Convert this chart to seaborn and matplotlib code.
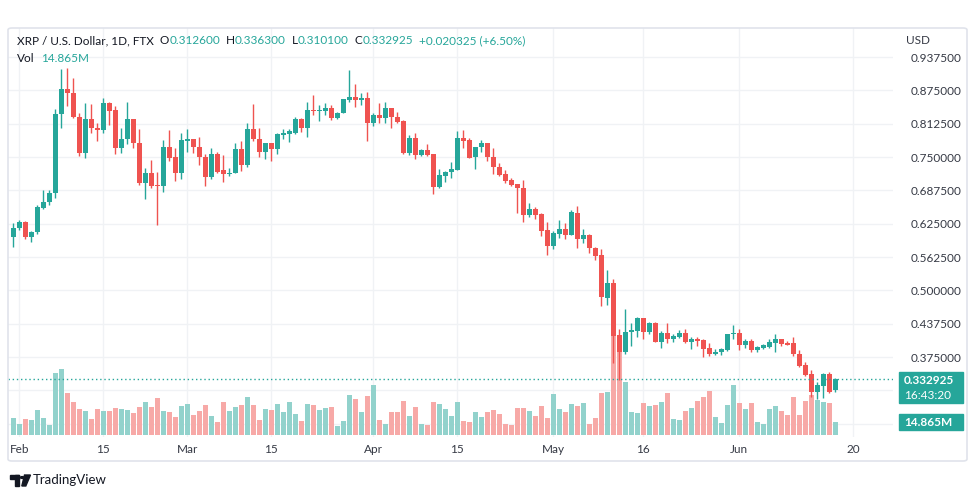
import numpy as np
import pandas as pd
import matplotlib
matplotlib.use("Agg")
import matplotlib.pyplot as plt
import matplotlib.dates as mdates
from matplotlib.patches import FancyBboxPatch, Rectangle, Polygon, Circle
import seaborn as sns

sns.set_theme(style="white")
plt.rcParams["font.family"] = ["Lato", "DejaVu Sans"]

## daily candles, Jan 31 -> Jun 17
dates = pd.date_range("2022-01-31", "2022-06-17", freq="D")

opens = [
    0.6000, 0.6175, 0.6288, 0.6000, 0.6094, 0.6544, 0.6663, 0.6831, 0.8313, 0.8769,
    0.8706, 0.8256, 0.7581, 0.8219, 0.8050, 0.8006, 0.8519, 0.8375, 0.7663, 0.7844,
    0.8219, 0.7769, 0.7006, 0.7206, 0.6969, 0.6956, 0.7694, 0.7506, 0.7194, 0.7800,
    0.7844, 0.7694, 0.7506, 0.7125, 0.7550, 0.7250, 0.7175, 0.7194, 0.7656, 0.7344,
    0.8031, 0.7844, 0.7594, 0.7756, 0.7656, 0.7906, 0.7925, 0.7944, 0.8206, 0.8038,
    0.8381, 0.8363, 0.8363, 0.8419, 0.8225, 0.8331, 0.8569, 0.8631, 0.8569, 0.8613,
    0.8138, 0.8281, 0.8225, 0.8419, 0.8256, 0.8175, 0.7569, 0.7863, 0.7538, 0.7625,
    0.7550, 0.6938, 0.7144, 0.7219, 0.7256, 0.7863, 0.7813, 0.7500, 0.7688, 0.7756,
    0.7506, 0.7319, 0.7175, 0.7063, 0.6988, 0.6925, 0.6413, 0.6519, 0.6425, 0.6125,
    0.5831, 0.6063, 0.6144, 0.6038, 0.6456, 0.5956, 0.6031, 0.5800, 0.5656, 0.4863,
    0.5131, 0.4156, 0.3844, 0.4225, 0.4238, 0.4475, 0.4219, 0.4381, 0.4031, 0.4194,
    0.4094, 0.4125, 0.4206, 0.4031, 0.4081, 0.4063, 0.3913, 0.3800, 0.3844, 0.3881,
    0.4175, 0.4206, 0.3975, 0.4050, 0.3881, 0.3925, 0.3944, 0.4019, 0.4081, 0.4006,
    0.4006, 0.3813, 0.3594, 0.3425, 0.3094, 0.3206, 0.3425, 0.3126,
]
highs = [
    0.6256, 0.6319, 0.6300, 0.6113, 0.6594, 0.6875, 0.6875, 0.8394, 0.9144, 0.9175,
    0.8975, 0.8331, 0.8519, 0.8488, 0.8131, 0.8613, 0.8538, 0.8456, 0.8050, 0.8538,
    0.8219, 0.8019, 0.7288, 0.7438, 0.7225, 0.7813, 0.8000, 0.7675, 0.7944, 0.8031,
    0.7844, 0.7881, 0.7550, 0.7675, 0.7600, 0.7538, 0.7300, 0.7756, 0.7800, 0.8131,
    0.8488, 0.8050, 0.7769, 0.7769, 0.7944, 0.8019, 0.8019, 0.8256, 0.8225, 0.8538,
    0.8656, 0.8469, 0.8506, 0.8469, 0.8350, 0.8581, 0.9125, 0.8863, 0.8706, 0.8725,
    0.8331, 0.8506, 0.8538, 0.8419, 0.8344, 0.8188, 0.7906, 0.7944, 0.7656, 0.7738,
    0.7563, 0.7269, 0.7238, 0.7413, 0.7988, 0.8000, 0.7863, 0.7694, 0.7813, 0.7756,
    0.7675, 0.7381, 0.7256, 0.7113, 0.7000, 0.7063, 0.6631, 0.6569, 0.6444, 0.6288,
    0.6113, 0.6313, 0.6269, 0.6500, 0.6581, 0.6156, 0.6050, 0.5813, 0.5781, 0.5375,
    0.5219, 0.4281, 0.4644, 0.4394, 0.4500, 0.4488, 0.4406, 0.4413, 0.4238, 0.4394,
    0.4175, 0.4250, 0.4281, 0.4131, 0.4131, 0.4094, 0.4019, 0.3894, 0.3925, 0.4188,
    0.4344, 0.4269, 0.4081, 0.4094, 0.3956, 0.3988, 0.4094, 0.4175, 0.4094, 0.4050,
    0.4125, 0.3875, 0.3656, 0.3500, 0.3281, 0.3456, 0.3469, 0.3363,
]
lows = [
    0.5813, 0.6131, 0.5969, 0.5906, 0.6063, 0.6531, 0.6600, 0.6738, 0.8050, 0.8456,
    0.8238, 0.7519, 0.7475, 0.7944, 0.7800, 0.7944, 0.8094, 0.7550, 0.7569, 0.7738,
    0.7675, 0.6969, 0.6719, 0.6925, 0.6225, 0.6844, 0.7425, 0.7050, 0.7094, 0.7594,
    0.7569, 0.7344, 0.6956, 0.7094, 0.7206, 0.7031, 0.7144, 0.7194, 0.7238, 0.7319,
    0.7800, 0.7506, 0.7456, 0.7425, 0.7563, 0.7831, 0.7781, 0.7925, 0.7969, 0.7875,
    0.8281, 0.8175, 0.8288, 0.8188, 0.8206, 0.8319, 0.8531, 0.8438, 0.8475, 0.7800,
    0.8081, 0.8138, 0.8138, 0.8038, 0.8144, 0.7550, 0.7538, 0.7456, 0.7519, 0.7519,
    0.6813, 0.6925, 0.7031, 0.7113, 0.7250, 0.7675, 0.7475, 0.7281, 0.7594, 0.7425,
    0.7175, 0.7144, 0.7019, 0.6956, 0.6456, 0.6281, 0.6381, 0.6331, 0.6019, 0.5663,
    0.5781, 0.5975, 0.5956, 0.6038, 0.5788, 0.5881, 0.5694, 0.5563, 0.4706, 0.4725,
    0.3644, 0.3319, 0.3813, 0.3956, 0.4131, 0.4094, 0.4188, 0.4031, 0.3925, 0.4006,
    0.4031, 0.4113, 0.4006, 0.3906, 0.3956, 0.3750, 0.3769, 0.3781, 0.3781, 0.3863,
    0.4081, 0.3881, 0.3913, 0.3850, 0.3844, 0.3906, 0.3925, 0.3844, 0.3956, 0.3969,
    0.3769, 0.3563, 0.3394, 0.3006, 0.2956, 0.2981, 0.3081, 0.3101,
]
closes = [
    0.6175, 0.6288, 0.6000, 0.6100, 0.6563, 0.6663, 0.6831, 0.8313, 0.8769, 0.8706,
    0.8250, 0.7581, 0.8219, 0.8050, 0.8006, 0.8519, 0.8363, 0.7663, 0.7844, 0.8219,
    0.7769, 0.7006, 0.7206, 0.6956, 0.6950, 0.7694, 0.7488, 0.7194, 0.7813, 0.7844,
    0.7688, 0.7500, 0.7125, 0.7550, 0.7225, 0.7175, 0.7206, 0.7656, 0.7344, 0.8031,
    0.7831, 0.7594, 0.7756, 0.7656, 0.7925, 0.7944, 0.7988, 0.8206, 0.8038, 0.8375,
    0.8356, 0.8375, 0.8419, 0.8225, 0.8331, 0.8581, 0.8631, 0.8569, 0.8613, 0.8138,
    0.8281, 0.8225, 0.8419, 0.8256, 0.8156, 0.7569, 0.7863, 0.7538, 0.7625, 0.7538,
    0.6938, 0.7156, 0.7225, 0.7269, 0.7863, 0.7800, 0.7488, 0.7694, 0.7756, 0.7500,
    0.7313, 0.7156, 0.7050, 0.6975, 0.6925, 0.6413, 0.6519, 0.6413, 0.6113, 0.5831,
    0.6069, 0.6144, 0.6038, 0.6469, 0.5956, 0.6031, 0.5788, 0.5644, 0.4875, 0.5131,
    0.4144, 0.3844, 0.4225, 0.4250, 0.4475, 0.4219, 0.4381, 0.4031, 0.4194, 0.4094,
    0.4144, 0.4206, 0.4031, 0.4081, 0.4050, 0.3906, 0.3800, 0.3850, 0.3894, 0.4188,
    0.4206, 0.3975, 0.4050, 0.3881, 0.3938, 0.3969, 0.4031, 0.4081, 0.3988, 0.3981,
    0.3800, 0.3581, 0.3413, 0.3094, 0.3219, 0.3425, 0.3094, 0.332925,
]
## volume in millions
volumes = [
    19.1, 12.6, 17.9, 17.1, 28.6, 19.1, 11.4, 71.2, 75.1, 48.4,
    38.1, 29.3, 27.4, 18.3, 29.3, 27.4, 27.4, 30.5, 29.3, 28.6,
    25.5, 31.6, 37.3, 31.6, 41.9, 27.4, 25.9, 20.2, 33.1, 35.1,
    22.9, 27.4, 34.3, 21.7, 14.5, 37.3, 27.4, 31.6, 34.3, 43.1,
    34.3, 17.1, 29.3, 28.6, 35.4, 25.9, 37.3, 24.0, 16.0, 35.4,
    34.3, 28.6, 30.5, 31.6, 10.3, 16.0, 45.7, 41.1, 25.9, 44.6,
    57.2, 17.1, 12.6, 25.9, 25.9, 38.9, 21.7, 31.6, 12.6, 11.4,
    38.1, 35.4, 29.7, 21.7, 38.1, 16.0, 14.5, 25.9, 20.2, 25.9,
    28.6, 24.0, 12.6, 11.4, 30.5, 30.5, 27.4, 21.7, 33.1, 19.1,
    46.9, 29.7, 25.9, 35.4, 33.1, 37.0, 12.6, 19.1, 48.4, 49.5,
    113.0, 110.0, 61.0, 26.7, 24.8, 37.0, 33.1, 34.3, 38.1, 48.4,
    18.3, 17.1, 27.4, 31.2, 39.2, 43.1, 50.3, 20.2, 13.3, 34.3,
    57.2, 37.0, 29.7, 37.0, 14.5, 12.6, 29.7, 33.1, 27.4, 22.9,
    43.1, 22.9, 38.9, 45.7, 40.0, 38.1, 37.0, 14.865,
]

tick_dates = ["2022-02-01", "2022-02-15", "2022-03-01", "2022-03-15", "2022-04-01",
              "2022-04-15", "2022-05-01", "2022-05-16", "2022-06-01", "2022-06-20"]
tick_labels = ["Feb", "15", "Mar", "15", "Apr", "15", "May", "16", "Jun", "20"]
grid_prices = [0.25, 0.3125, 0.375, 0.4375, 0.5, 0.5625, 0.625, 0.6875, 0.75, 0.8125, 0.875, 0.9375]
label_from = 0.375   # lower labels sit under the badges

df = pd.DataFrame({"date": dates, "open": opens, "high": highs,
                   "low": lows, "close": closes, "vol": volumes})
df["x"] = mdates.date2num(df["date"])
df["up"] = df["close"] >= df["open"]

UP, DOWN = "#26a69a", "#ef5350"
UP_VOL, DOWN_VOL = "#92d2cc", "#f7a9a7"
TXT = "#131722"
GRID = "#f0f2f5"

W, H = 979, 498
fig = plt.figure(figsize=(W / 100, H / 100), dpi=100)
fig.patch.set_facecolor("white")

rect = [8 / W, 1 - 437 / H, (893 - 8) / W, (437 - 28) / H]
ax = fig.add_axes(rect)                       # grid + scales
axv = fig.add_axes(rect, sharex=ax)            # volume overlay
axp = fig.add_axes(rect, sharex=ax, sharey=ax) # candles
for a in (axv, axp):
    a.patch.set_visible(False)
    a.axis("off")

x0 = mdates.date2num(pd.Timestamp("2022-01-31"))
ax.set_xlim(x0 - 0.883, x0 + 146.6)
ax.set_ylim(0.225, 0.9919)
axv.set_ylim(-2.29, 465.4)

# grid / ticks
ax.set_xticks(mdates.date2num(pd.to_datetime(tick_dates)))
ax.set_xticklabels(tick_labels)
ax.set_yticks(grid_prices)
ax.set_yticklabels([f"{v:.6f}" if v >= label_from else "" for v in grid_prices])
ax.yaxis.tick_right()
ax.grid(True, color=GRID, lw=1)
ax.tick_params(axis="both", length=0, labelsize=8.5, labelcolor="#363a45")
ax.tick_params(axis="x", pad=5)
ax.tick_params(axis="y", pad=13)
for s in ax.spines.values():
    s.set_visible(False)

# volume bars
axv.bar(df["x"], df["vol"], width=0.8,
        color=np.where(df["up"], UP_VOL, DOWN_VOL), linewidth=0)

# candles
cols = np.where(df["up"], UP, DOWN)
axp.vlines(df["x"], df["low"], df["high"], colors=cols, lw=1)
body_lo = np.minimum(df["open"], df["close"])
body_h = np.maximum((df["close"] - df["open"]).abs(), 0.0018)
axp.bar(df["x"], body_h, bottom=body_lo, width=0.76, color=cols, linewidth=0)

last = closes[-1]
axp.axhline(last, color=UP, lw=1, linestyle=(0, (1, 2)))

# chart frame
fig.add_artist(FancyBboxPatch((8 / W, 1 - 461 / H), 959 / W, 433 / H,
                              boxstyle="round,pad=0,rounding_size=0.004",
                              transform=fig.transFigure, fill=False,
                              ec="#e0e3eb", lw=1.2))

# price / volume badges on the scale
fig.add_artist(Rectangle((899 / W, 1 - 403 / H), 64 / W, 31 / H,
                         transform=fig.transFigure, color=UP, zorder=5))
fig.text(904 / W, 1 - 380 / H, f"{last:.6f}", color="white", fontsize=8.5,
         fontweight="bold", va="center", zorder=6)
fig.text(904 / W, 1 - 395 / H, "16:43:20", color="white", fontsize=8.5,
         va="center", zorder=6)
fig.add_artist(Rectangle((899 / W, 1 - 430 / H), 64 / W, 16 / H,
                         transform=fig.transFigure, color=UP, zorder=5))
fig.text(904 / W, 1 - 422 / H, "14.865M", color="white", fontsize=8.5,
         fontweight="bold", va="center", zorder=6)
fig.text(906 / W, 1 - 41 / H, "USD", color="#363a45", fontsize=8.5, va="center")

# header line built piece by piece
renderer = fig.canvas.get_renderer()
def run(x, y, parts, size=8.5):
    for s, c, gap in parts:
        t = fig.text(x / W, 1 - y / H, s, color=c, fontsize=size, va="center", ha="left")
        x = t.get_window_extent(renderer).x1 + gap

run(17, 41, [("XRP / U.S. Dollar, 1D, FTX", TXT, 6),
             ("O", TXT, 0), ("0.312600", UP, 6),
             ("H", TXT, 0), ("0.336300", UP, 6),
             ("L", TXT, 0), ("0.310100", UP, 6),
             ("C", TXT, 0), ("0.332925", UP, 6),
             ("+0.020325 (+6.50%)", UP, 0)])
run(17, 59, [("Vol", TXT, 6), ("14.865M", UP, 0)])

# TradingView logo + name
fig.add_artist(Rectangle((10 / W, 1 - 479 / H), 9 / W, 4 / H, transform=fig.transFigure, color=TXT))
fig.add_artist(Rectangle((15 / W, 1 - 486 / H), 4 / W, 11 / H, transform=fig.transFigure, color=TXT))
fig.add_artist(Circle((22.2 / W, 1 - 477.5 / H), 1.8 / W, transform=fig.transFigure, color=TXT))
fig.add_artist(Polygon([(24.5 / W, 1 - 475 / H), (30.5 / W, 1 - 475 / H),
                        (25.8 / W, 1 - 486 / H), (21.8 / W, 1 - 486 / H)],
                       closed=True, transform=fig.transFigure, color=TXT))
fig.text(33 / W, 1 - 480 / H, "TradingView", color=TXT, fontsize=9.5, va="center")

fig.savefig("out.png", dpi=100, facecolor="white")
